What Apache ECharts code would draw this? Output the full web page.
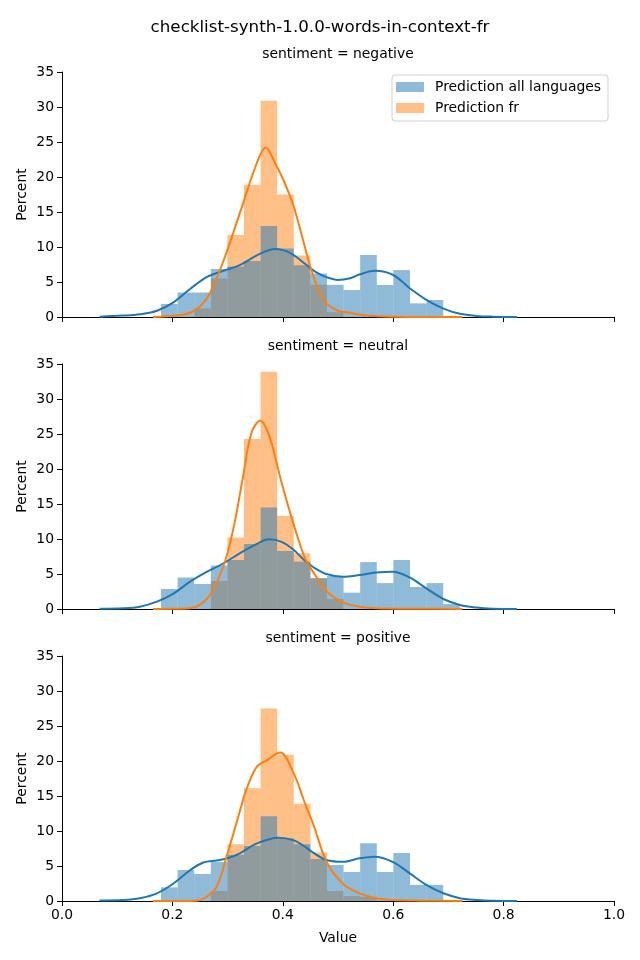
<!DOCTYPE html>
<html>
<head>
<meta charset="utf-8">
<script src="https://cdn.jsdelivr.net/npm/echarts@6/dist/echarts.min.js"></script>
<style>html,body{margin:0;padding:0;background:#fff}#chart{width:640px;height:960px}</style>
</head>
<body>
<div id="chart"></div>
<script>
// ---- data ----
const figTitle = 'checklist-synth-1.0.0-words-in-context-fr';
const panelTitles = ['sentiment = negative', 'sentiment = neutral', 'sentiment = positive'];
const seriesNames = ['Prediction all languages', 'Prediction fr'];
const xTicks = [0, 0.2, 0.4, 0.6, 0.8, 1.0];
const yTicks = [0, 5, 10, 15, 20, 25, 30, 35];

const binEdges = [0.1793, 0.2094, 0.2395, 0.2696, 0.2996, 0.3297, 0.3598, 0.3898, 0.4199, 0.4500,
                  0.4801, 0.5101, 0.5402, 0.5703, 0.6003, 0.6304, 0.6605, 0.6906, 0.7206];

const negAll = [1.86, 3.5, 3.5, 6.86, 7.2, 8.0, 13.0, 9.8, 7.4, 6.2, 4.6, 3.86, 8.86, 4.57, 6.7, 1.95, 2.43, 0];
const negFr  = [0, 0, 1.24, 5.5, 11.7, 18.9, 30.9, 17.5, 8.8, 4.6, 0.67, 0, 0, 0, 0, 0, 0, 0];
const neuAll = [2.86, 4.5, 3.57, 6.2, 7.0, 9.3, 14.5, 8.3, 6.76, 4.4, 4.7, 2.33, 6.7, 3.7, 7.0, 3.14, 3.7, 0.7];
const neuFr  = [0, 0, 0, 4.0, 10.2, 24.3, 33.9, 13.3, 7.95, 4.4, 1.43, 0, 0, 0, 0, 0, 0, 0];
const posAll = [1.95, 4.43, 3.86, 5.6, 6.6, 7.86, 12.1, 8.95, 8.1, 6.0, 5.14, 4.14, 8.24, 4.14, 6.86, 2.3, 2.3, 0];
const posFr  = [0, 0, 0, 1.43, 8.1, 16.1, 27.5, 20.9, 13.9, 6.95, 1.43, 0.7, 0.6, 0, 0, 0, 0, 0];

const negAllKde = [[0.068,0.03],[0.111,0.2],[0.141,0.4],[0.172,0.9],[0.202,2.1],[0.232,4.0],[0.262,5.7],[0.292,6.6],[0.322,7.4],[0.353,8.8],[0.386,9.7],[0.413,9.15],[0.440,7.6],[0.46,6.4],[0.479,5.7],[0.50,5.3],[0.52,5.5],[0.54,6.1],[0.567,6.6],[0.60,6.0],[0.630,4.1],[0.661,2.4],[0.691,1.2],[0.721,0.45],[0.751,0.15],[0.78,0.05],[0.824,0.01]];
const negFrKde  = [[0.165,0],[0.208,0.2],[0.232,0.6],[0.250,1.5],[0.268,3.4],[0.292,7.9],[0.322,14.8],[0.353,22.0],[0.369,24.2],[0.386,22.0],[0.401,19.6],[0.419,16.0],[0.440,10.0],[0.449,7.4],[0.465,3.8],[0.479,1.95],[0.50,0.9],[0.521,0.6],[0.551,0.2],[0.60,0.05],[0.725,0]];
const neuAllKde = [[0.068,0.03],[0.111,0.1],[0.141,0.33],[0.172,1.05],[0.202,2.2],[0.232,3.9],[0.262,5.3],[0.292,6.5],[0.322,7.95],[0.353,9.3],[0.375,9.95],[0.398,9.6],[0.419,8.5],[0.440,6.9],[0.455,6.0],[0.479,5.0],[0.509,4.6],[0.539,4.86],[0.569,5.2],[0.599,5.33],[0.630,4.5],[0.660,2.95],[0.691,1.43],[0.721,0.57],[0.751,0.2],[0.78,0.05],[0.824,0.01]];
const neuFrKde  = [[0.165,0],[0.202,0.02],[0.232,0.1],[0.250,0.6],[0.268,2.0],[0.292,6.0],[0.310,11.3],[0.328,18.9],[0.343,25.1],[0.359,26.9],[0.376,24.6],[0.398,18.0],[0.42,12.0],[0.44,7.3],[0.455,5.3],[0.48,2.5],[0.51,0.9],[0.539,0.33],[0.569,0.1],[0.62,0.04],[0.725,0]];
const posAllKde = [[0.068,0.08],[0.111,0.15],[0.141,0.4],[0.172,1.1],[0.202,2.5],[0.232,4.4],[0.256,5.5],[0.280,5.8],[0.300,6.1],[0.322,6.8],[0.353,8.24],[0.392,9.05],[0.419,8.7],[0.440,7.76],[0.455,6.9],[0.479,5.86],[0.509,5.6],[0.539,6.1],[0.566,6.33],[0.599,5.6],[0.630,3.95],[0.660,2.3],[0.691,1.1],[0.721,0.4],[0.751,0.14],[0.78,0.04],[0.824,0.01]];
const posFrKde  = [[0.165,0],[0.202,0.01],[0.244,0.05],[0.262,0.6],[0.280,2.0],[0.298,6.3],[0.316,11.1],[0.334,15.9],[0.353,19.2],[0.371,20.1],[0.395,21.2],[0.42,18.2],[0.44,14.0],[0.455,11.0],[0.48,5.5],[0.51,2.4],[0.539,1.1],[0.569,0.4],[0.599,0.14],[0.65,0.05],[0.725,0]];

// ---- styling ----
const FONT = 'DejaVu Sans';
const FS = 13.9;
const BLUE = '#1f77b4', ORANGE = '#ff7f0e';
const BLUE_A = 'rgba(31,119,180,0.5)', ORANGE_A = 'rgba(255,127,14,0.5)';

const panels = [
  {all: negAll, fr: negFr, allKde: negAllKde, frKde: negFrKde, top: 72},
  {all: neuAll, fr: neuFr, allKde: neuAllKde, frKde: neuFrKde, top: 364},
  {all: posAll, fr: posFr, allKde: posAllKde, frKde: posFrKde, top: 656}
];
const panelHeight = 245;

function histData(vals) {
  return vals.map((v, i) => [binEdges[i], binEdges[i + 1], v]);
}
function renderBar(params, api) {
  const p0 = api.coord([api.value(0), api.value(2)]);
  const p1 = api.coord([api.value(1), 0]);
  return {
    type: 'rect',
    shape: {x: p0[0], y: p0[1], width: p1[0] - p0[0], height: p1[1] - p0[1]},
    style: api.style()
  };
}

const grids = [], xAxes = [], yAxes = [], series = [], titles = [];
titles.push({text: figTitle, left: 'center', top: 19, padding: 0,
  textStyle: {fontFamily: FONT, fontSize: 16.7, fontWeight: 'normal', color: '#000'}});

panels.forEach((p, k) => {
  grids.push({left: 62, right: 26, top: p.top, height: panelHeight, containLabel: false});
  titles.push({text: panelTitles[k], left: 338, textAlign: 'center', top: p.top - 25, padding: 0,
    textStyle: {fontFamily: FONT, fontSize: FS, fontWeight: 'normal', color: '#000'}});
  const last = k === panels.length - 1;
  xAxes.push({
    type: 'value', gridIndex: k, min: xTicks[0], max: xTicks[xTicks.length - 1], interval: 0.2,
    axisLine: {show: true, onZero: false, lineStyle: {color: '#000', width: 1}},
    axisTick: {show: true, length: 5, lineStyle: {color: '#000', width: 1}},
    axisLabel: {show: last, margin: 7, fontFamily: FONT, fontSize: FS, color: '#000',
      formatter: v => v.toFixed(1)},
    splitLine: {show: false},
    name: last ? 'Value' : '', nameLocation: 'middle', nameGap: 30, nameMoveOverlap: false,
    nameTextStyle: {fontFamily: FONT, fontSize: FS, color: '#000'}
  });
  yAxes.push({
    type: 'value', gridIndex: k, min: yTicks[0], max: yTicks[yTicks.length - 1], interval: 5,
    axisLine: {show: true, lineStyle: {color: '#000', width: 1}},
    axisTick: {show: true, length: 5, lineStyle: {color: '#000', width: 1}},
    axisLabel: {margin: 8, fontFamily: FONT, fontSize: FS, color: '#000'},
    splitLine: {show: false},
    name: 'Percent', nameLocation: 'middle', nameGap: 33, nameRotate: 90, nameMoveOverlap: false,
    nameTextStyle: {fontFamily: FONT, fontSize: FS, color: '#000'}
  });
  series.push({
    name: seriesNames[1], type: 'custom', xAxisIndex: k, yAxisIndex: k,
    renderItem: renderBar, encode: {x: [0, 1], y: 2},
    itemStyle: {color: ORANGE_A}, data: histData(p.fr), z: 1
  });
  series.push({
    name: seriesNames[0], type: 'custom', xAxisIndex: k, yAxisIndex: k,
    renderItem: renderBar, encode: {x: [0, 1], y: 2},
    itemStyle: {color: BLUE_A}, data: histData(p.all), z: 2
  });
  series.push({
    name: 'kde-all-' + k, type: 'line', xAxisIndex: k, yAxisIndex: k,
    data: p.allKde, smooth: 0.35, showSymbol: false, symbol: 'none',
    lineStyle: {color: BLUE, width: 2}, z: 3, silent: true
  });
  series.push({
    name: 'kde-fr-' + k, type: 'line', xAxisIndex: k, yAxisIndex: k,
    data: p.frKde, smooth: 0.35, showSymbol: false, symbol: 'none',
    lineStyle: {color: ORANGE, width: 2}, z: 3, silent: true
  });
});

const chart = echarts.init(document.getElementById('chart'), null, {renderer: 'canvas'});
chart.setOption({
  animation: false,
  backgroundColor: '#fff',
  title: titles,
  grid: grids,
  xAxis: xAxes,
  yAxis: yAxes,
  legend: {
    orient: 'vertical', right: 32, top: 75,
    padding: [5, 7, 6, 4], itemGap: 7, itemWidth: 28, itemHeight: 10,
    backgroundColor: 'rgba(255,255,255,0.8)', borderColor: '#d0d0d0', borderWidth: 1, borderRadius: 3,
    textStyle: {fontFamily: FONT, fontSize: FS, color: '#000', lineHeight: 14, padding: [0, 0, 0, 6]},
    data: [
      {name: seriesNames[0], icon: 'rect', itemStyle: {color: BLUE_A}},
      {name: seriesNames[1], icon: 'rect', itemStyle: {color: ORANGE_A}}
    ]
  },
  series: series
});
</script>
</body>
</html>
